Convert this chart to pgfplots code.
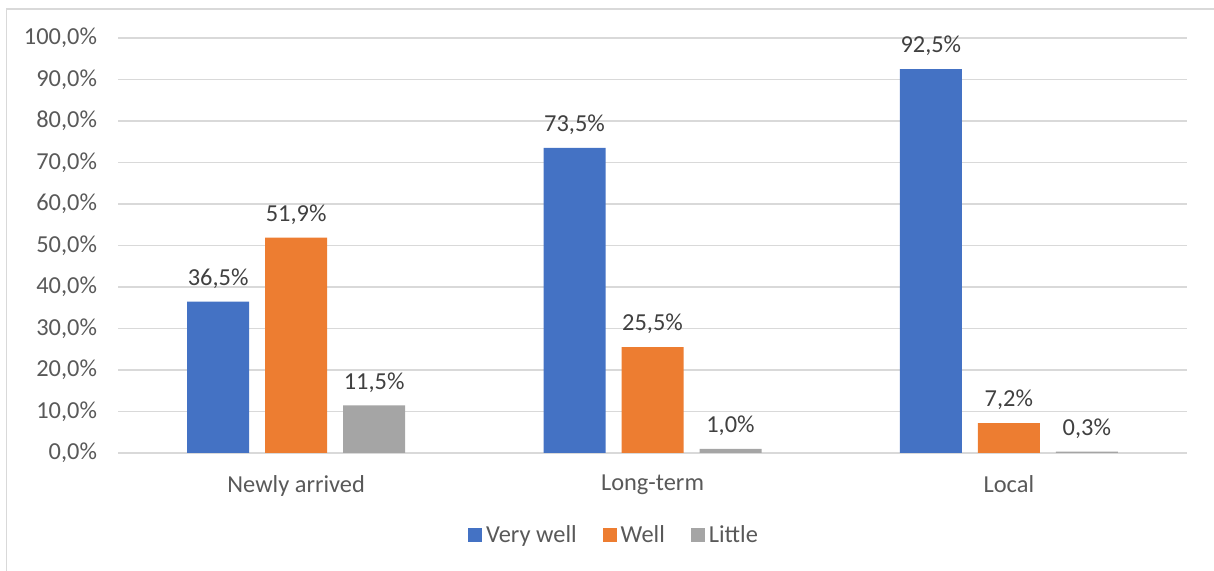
\documentclass[border=0pt]{standalone}
\usepackage{pgfplots}
\pgfplotsset{compat=1.18}
\usepackage{fontspec}
\setmainfont{Carlito}
\definecolor{cblue}{HTML}{4472C4}
\definecolor{corange}{HTML}{ED7D31}
\definecolor{cgrey}{HTML}{A5A5A5}
\definecolor{gridc}{HTML}{D9D9D9}
\definecolor{txt}{HTML}{595959}
\definecolor{lbl}{HTML}{404040}
\begin{document}
\begin{tikzpicture}[x=1pt,y=1pt]
\path[use as bounding box] (0,0) rectangle (607,285.5);
\draw[gridc, line width=0.75pt] (3.3,-2) -- (3.3,281) -- (610,281);
\begin{axis}[
  at={(59pt,59pt)}, anchor=south west,
  scale only axis, width=534.5pt, height=207.5pt,
  ybar=8pt, bar width=31pt,
  xmin=-0.5, xmax=2.5, ymin=0, ymax=100,
  xtick={0,1,2}, xticklabels={Newly arrived,Long-term,Local},
  ytick={0,10,...,100},
  ymajorgrids, grid style={gridc, line width=0.75pt},
  axis line style={draw=none},
  major tick length=0pt,
  font=\fontsize{12.2}{14}\selectfont,
  tick label style={text=txt},
  /pgf/number format/assume math mode=true,
  yticklabel={\pgfmathprintnumber[fixed,fixed zerofill,precision=1,use comma]{\tick}\%},
  yticklabel style={anchor=east, xshift=-7pt},
  xticklabel style={anchor=north, yshift=-7.5pt},
  nodes near coords={\pgfmathprintnumber[fixed,fixed zerofill,precision=1,use comma,assume math mode=true]{\pgfplotspointmeta}\%},
  nodes near coords style={text=lbl, font=\fontsize{12.2}{14}\selectfont, anchor=south, yshift=3pt},
  legend style={at={(0.465,-0.198)}, anchor=center, draw=none, legend columns=-1, text=txt,
    /tikz/every even column/.append style={column sep=11pt}, font=\fontsize{12.2}{14}\selectfont},
  legend image code/.code={\fill[#1] (0pt,-3.5pt) rectangle (7pt,3.5pt);},
]
\addplot[fill=cblue, draw=none] coordinates {(0,36.5) (1,73.5) (2,92.5)};
\addplot[fill=corange, draw=none] coordinates {(0,51.9) (1,25.5) (2,7.2)};
\addplot[fill=cgrey, draw=none] coordinates {(0,11.5) (1,1.0) (2,0.3)};
\legend{Very well,Well,Little}
\end{axis}
\end{tikzpicture}
\end{document}
